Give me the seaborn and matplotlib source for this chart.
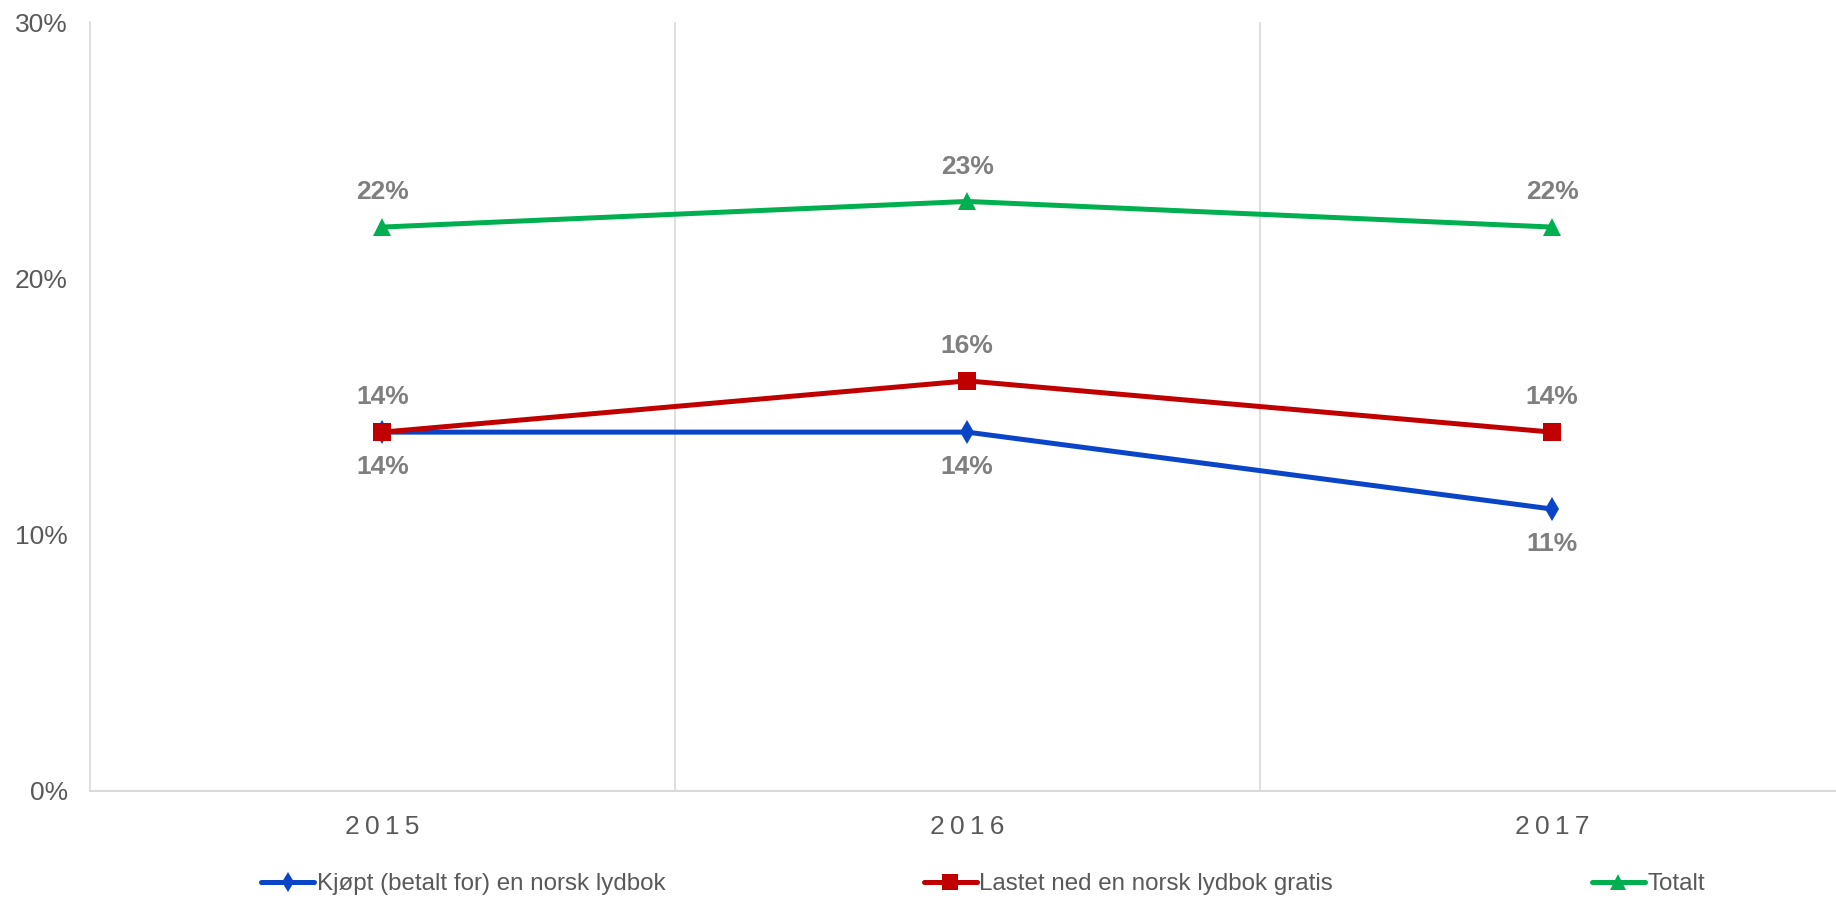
import numpy as np
import pandas as pd
import matplotlib
matplotlib.use("Agg")
import matplotlib.pyplot as plt
import seaborn as sns

years = ["2015", "2016", "2017"]
kjopt = [14, 14, 11]
lastet = [14, 16, 14]
totalt = [22, 23, 22]

series_names = ["Kjøpt (betalt for) en norsk lydbok",
                "Lastet ned en norsk lydbok gratis",
                "Totalt"]
colors = ["#0a45c8", "#c00000", "#00b050"]
markers = ["d", "s", "^"]
msizes = [12, 13, 13]
# label placement: +1 above, -1 below
label_side = [-1, 1, 1]

sns.set_theme(style="white")
plt.rcParams["font.family"] = ["Liberation Sans", "DejaVu Sans"]

fig = plt.figure(figsize=(18.36, 9.01), dpi=100)
ax = fig.add_axes([90 / 1836, 1 - 791 / 901, 1754.5 / 1836, 769 / 901])

xpos = np.arange(len(years))
for name, vals, c, m, ms, side in zip(series_names, [kjopt, lastet, totalt],
                                       colors, markers, msizes, label_side):
    df = pd.DataFrame({"x": xpos, "y": vals})
    sns.lineplot(data=df, x="x", y="y", ax=ax, color=c, lw=3.6, marker=m,
                 markersize=ms, markeredgewidth=0, label=name)
    for x, v in zip(xpos, vals):
        ax.annotate(f"{v}%", (x, v), xytext=(0, 25 * side), textcoords="offset points",
                    ha="center", va="center", fontsize=19, fontweight="bold",
                    color="#7f7f7f")

ax.set_xlim(-0.5, 2.5)
ax.set_ylim(0, 30)
ax.set_yticks([0, 10, 20, 30])
ax.set_yticklabels([f"{t}%" for t in [0, 10, 20, 30]])
ax.set_xticks(xpos)
# spaced-out year labels like the original
ax.set_xticklabels(["\u2009".join(y) for y in years])
ax.set_xlabel("")
ax.set_ylabel("")
ax.tick_params(axis="y", length=0, pad=16, labelsize=19, labelcolor="#595959")
ax.tick_params(axis="x", length=0, pad=17, labelsize=19, labelcolor="#595959")

for xv in [0.5, 1.5]:
    ax.axvline(xv, color="#d9d9d9", lw=1.2, zorder=0)
for s in ["top", "right"]:
    ax.spines[s].set_visible(False)
ax.spines["left"].set_color("#d9d9d9")
ax.spines["left"].set_linewidth(1.2)
ax.spines["bottom"].set_color("#d9d9d9")
ax.spines["bottom"].set_linewidth(1.5)

handles, labels = ax.get_legend_handles_labels()
ax.get_legend().remove()
leg = fig.legend(handles, labels, loc="center", bbox_to_anchor=(983 / 1836, 1 - 884 / 901),
                 ncol=3, frameon=False, fontsize=17.4, handlelength=2.2, markerscale=0.85,
                 handletextpad=0.1, columnspacing=10.7, labelcolor="#595959")

fig.savefig("out.png", dpi=100)
